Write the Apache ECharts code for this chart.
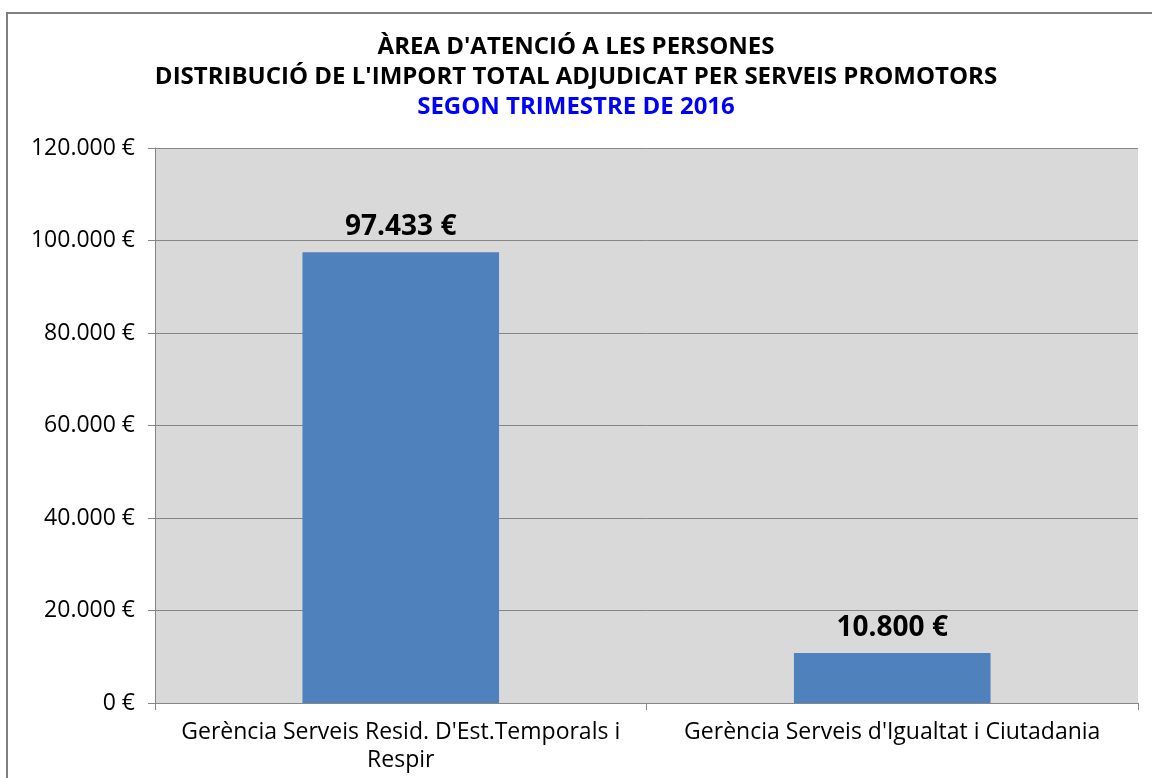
<!DOCTYPE html>
<html>
<head>
<meta charset="utf-8">
<script src="https://cdn.jsdelivr.net/npm/echarts@6/dist/echarts.min.js"></script>
<style>
  html, body { margin: 0; padding: 0; background: #fff; }
  #chart { width: 1152px; height: 778px; }
</style>
</head>
<body>
<div id="chart"></div>
<script>
const categories = [
  "Gerència Serveis Resid. D'Est.Temporals i\nRespir",
  "Gerència Serveis d'Igualtat i Ciutadania"
];
const amounts = [97433, 10800];
const titleLines = [
  "ÀREA D'ATENCIÓ A LES PERSONES",
  "DISTRIBUCIÓ DE L'IMPORT TOTAL ADJUDICAT PER SERVEIS PROMOTORS",
  "SEGON TRIMESTRE DE 2016"
];

const FONT = '"Open Sans", Lato, sans-serif';

// 97433 -> "97.433 €"
function euro(v) {
  return String(Math.round(v)).replace(/\B(?=(\d{3})+(?!\d))/g, '.') + ' €';
}

const chart = echarts.init(document.getElementById('chart'));

const titleStyle = { fontFamily: FONT, fontSize: 24, fontWeight: 'bold', color: '#000' };

chart.setOption({
  backgroundColor: '#ffffff',
  animation: false,
  title: [
    { text: titleLines[0], left: 'center', top: 30, textStyle: titleStyle },
    { text: titleLines[1], left: 'center', top: 60, textStyle: titleStyle },
    { text: titleLines[2], left: 'center', top: 90, textStyle: Object.assign({}, titleStyle, { color: '#0000ff' }) }
  ],
  graphic: [
    {
      type: 'rect',
      shape: { x: 7, y: 13, width: 1170, height: 800 },
      style: { fill: null, stroke: '#808080', lineWidth: 2 },
      silent: true
    }
  ],
  grid: {
    left: 155,
    right: 14,
    top: 148,
    bottom: 75,
    show: true,
    backgroundColor: '#d9d9d9',
    borderWidth: 0
  },
  xAxis: {
    type: 'category',
    data: categories,
    axisLine: { show: true, lineStyle: { color: '#868686', width: 1 } },
    axisTick: { show: true, length: 7, lineStyle: { color: '#868686' } },
    axisLabel: {
      fontFamily: FONT,
      fontSize: 23,
      color: '#000',
      margin: 15,
      lineHeight: 28,
      interval: 0
    }
  },
  yAxis: {
    type: 'value',
    min: 0,
    max: 120000,
    interval: 20000,
    axisLine: { show: true, lineStyle: { color: '#868686', width: 1 } },
    axisTick: { show: true, length: 7, lineStyle: { color: '#868686' } },
    splitLine: { show: true, lineStyle: { color: '#868686', width: 1 } },
    axisLabel: {
      fontFamily: FONT,
      fontSize: 23,
      color: '#000',
      margin: 20,
      formatter: euro
    }
  },
  series: [
    {
      type: 'bar',
      data: amounts,
      barWidth: '40%',
      itemStyle: { color: '#4f81bd' },
      label: {
        show: true,
        position: 'top',
        distance: 11,
        fontFamily: FONT,
        fontSize: 28,
        fontWeight: 'bold',
        color: '#000',
        formatter: p => euro(p.value)
      }
    }
  ]
});
</script>
</body>
</html>
